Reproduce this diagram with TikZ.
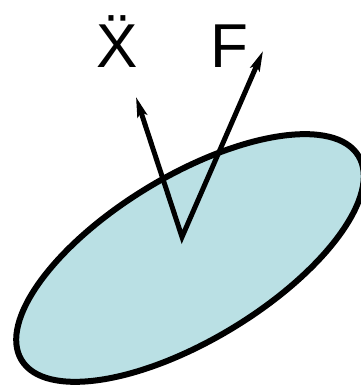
\documentclass[tikz,border=0pt]{standalone}
\usepackage{fontspec}
\setmainfont{Liberation Sans}
\usetikzlibrary{arrows.meta}
\definecolor{bodyfill}{RGB}{186,224,228}
\tikzset{
  body/.style={draw=black, fill=bodyfill, line width=6pt},
  vec/.style={draw=black, line width=5pt, line join=miter, {Stealth[length=20pt,width=10pt,inset=4pt]}-{Stealth[length=20pt,width=10pt,inset=4pt]}},
  lbl/.style={inner sep=0pt, anchor=base, font=\fontsize{62}{62}\selectfont}
}
\begin{document}
\begin{tikzpicture}[x=1pt,y=1pt]
\useasboundingbox (0,0) rectangle (360,387);
\draw[body, rotate around={31.2:(190,129)}] (190,129) ellipse [x radius=197, y radius=82];
\coordinate (o) at (182,150);
\coordinate (xtip) at (136,290);
\coordinate (ftip) at (263,336);
\draw[vec] (xtip) -- (o) -- (ftip);
\node[lbl] (xlabel) at (117,319) {\"X};
\node[lbl] (flabel) at (229,319) {F};
\end{tikzpicture}
\end{document}
